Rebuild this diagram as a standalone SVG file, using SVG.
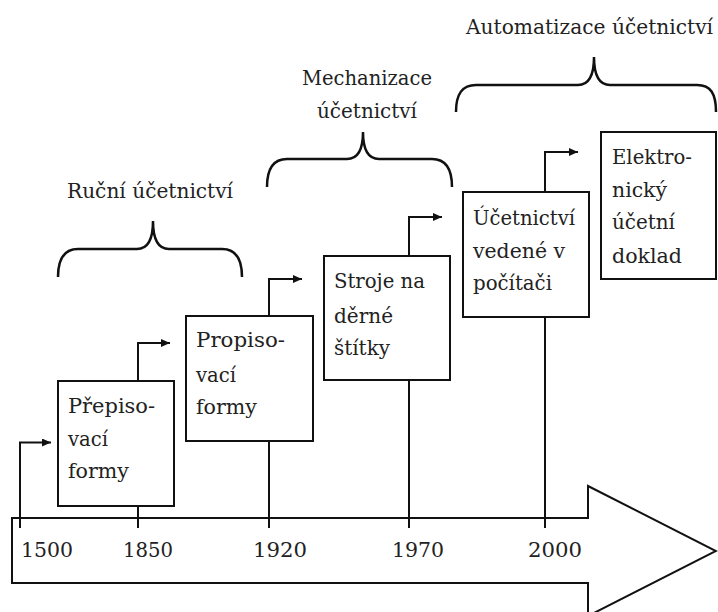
<svg xmlns="http://www.w3.org/2000/svg" width="718" height="612" viewBox="0 0 718 612">
<style>
text{font-family:'DejaVu Serif Condensed','DejaVu Serif','Liberation Serif',serif;font-size:21px;fill:#222}
.box{fill:#fff;stroke:#111;stroke-width:2}
.ln{fill:none;stroke:#111;stroke-width:2}
.br{fill:none;stroke:#111;stroke-width:2.5}
</style>
<defs>
<marker id="ah" markerUnits="userSpaceOnUse" markerWidth="10" markerHeight="10" refX="9" refY="4" orient="auto">
<path d="M0,0 L9,4 L0,8 z" fill="#111"/>
</marker>
</defs>
<g id="timeline">
<polygon class="ln" points="12,518 588,518 588,486 716,551 588,616 588,583 12,583" fill="#fff"/>
</g>
<g id="connectors">
<path class="ln" d="M20,528 V442.5 H51" marker-end="url(#ah)"/>
<path class="ln" d="M138,528 V506"/>
<path class="ln" d="M138,380 V343 H170" marker-end="url(#ah)"/>
<path class="ln" d="M269,528 V441"/>
<path class="ln" d="M269,316 V279 H302" marker-end="url(#ah)"/>
<path class="ln" d="M409,528 V380"/>
<path class="ln" d="M409,256 V217 H442" marker-end="url(#ah)"/>
<path class="ln" d="M545,528 V317"/>
<path class="ln" d="M545,192 V152 H578" marker-end="url(#ah)"/>
</g>
<g id="years">
<text x="21" y="557" textLength="52" lengthAdjust="spacingAndGlyphs">1500</text>
<text x="123" y="557" textLength="50" lengthAdjust="spacingAndGlyphs">1850</text>
<text x="253" y="557" textLength="54" lengthAdjust="spacingAndGlyphs">1920</text>
<text x="392" y="557" textLength="52" lengthAdjust="spacingAndGlyphs">1970</text>
<text x="528" y="557" textLength="54" lengthAdjust="spacingAndGlyphs">2000</text>
</g>
<g id="node-prepisovaci">
<rect class="box" x="58" y="381" width="116" height="125"/>
<text x="68" y="413" textLength="87" lengthAdjust="spacingAndGlyphs">Přepiso-</text>
<text x="68" y="446" textLength="40" lengthAdjust="spacingAndGlyphs">vací</text>
<text x="68" y="478" textLength="61" lengthAdjust="spacingAndGlyphs">formy</text>
</g>
<g id="node-propisovaci">
<rect class="box" x="186" y="316" width="127" height="125"/>
<text x="196" y="347" textLength="89" lengthAdjust="spacingAndGlyphs">Propiso-</text>
<text x="196" y="382" textLength="40" lengthAdjust="spacingAndGlyphs">vací</text>
<text x="196" y="414" textLength="61" lengthAdjust="spacingAndGlyphs">formy</text>
</g>
<g id="node-stroje">
<rect class="box" x="324" y="256" width="126" height="124"/>
<text x="334" y="288" textLength="91" lengthAdjust="spacingAndGlyphs">Stroje na</text>
<text x="334" y="323" textLength="59" lengthAdjust="spacingAndGlyphs">děrné</text>
<text x="334" y="355" textLength="56" lengthAdjust="spacingAndGlyphs">štítky</text>
</g>
<g id="node-pocitac">
<rect class="box" x="463" y="192" width="126" height="125"/>
<text x="473" y="225" textLength="102" lengthAdjust="spacingAndGlyphs">Účetnictví</text>
<text x="473" y="258" textLength="92" lengthAdjust="spacingAndGlyphs">vedené v</text>
<text x="473" y="290" textLength="79" lengthAdjust="spacingAndGlyphs">počítači</text>
</g>
<g id="node-elektronicky">
<rect class="box" x="601" y="132" width="115" height="147" stroke-width="2.5"/>
<text x="612" y="164" textLength="80" lengthAdjust="spacingAndGlyphs">Elektro-</text>
<text x="612" y="197" textLength="55" lengthAdjust="spacingAndGlyphs">nický</text>
<text x="612" y="229" textLength="63" lengthAdjust="spacingAndGlyphs">účetní</text>
<text x="612" y="263" textLength="70" lengthAdjust="spacingAndGlyphs">doklad</text>
</g>
<g id="phase-rucni">
<path class="br" d="M58,277 C58,259 64,249 78,249 L137,249 C147,249 153,241 153,221 C153,241 159,249 169,249 L222,249 C236,249 242,259 242,277"/>
<text x="67" y="198" textLength="166" lengthAdjust="spacingAndGlyphs">Ruční účetnictví</text>
</g>
<g id="phase-mechanizace">
<path class="br" d="M267,187 C267,169 273,159 287,159 L347,159 C357,159 363,151 363,132 C363,151 369,159 379,159 L432,159 C446,159 452,169 452,187"/>
<text x="302" y="85" textLength="130" lengthAdjust="spacingAndGlyphs">Mechanizace</text>
<text x="317" y="118" textLength="100" lengthAdjust="spacingAndGlyphs">účetnictví</text>
</g>
<g id="phase-automatizace">
<path class="br" d="M456,112 C456,94 462,85 476,85 L578,85 C588,85 594,77 594,57 C594,77 600,85 610,85 L697,85 C711,85 716,94 716,112"/>
<text x="466" y="34" textLength="247" lengthAdjust="spacingAndGlyphs">Automatizace účetnictví</text>
</g>
</svg>
